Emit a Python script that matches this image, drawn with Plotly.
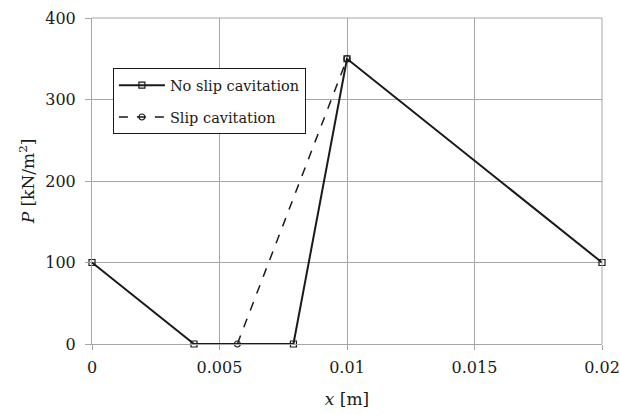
import plotly.graph_objects as go

x_noslip = [0, 0.004, 0.0079, 0.01, 0.02]
p_noslip = [100, 0, 0, 350, 100]
x_slip = [0.0057, 0.01]
p_slip = [0, 350]
x_ticks = [0, 0.005, 0.01, 0.015, 0.02]
x_ticklabels = ["0", "0.005", "0.01", "0.015", "0.02"]
y_ticks = [0, 100, 200, 300, 400]

FONT = "DejaVu Serif"
GRID = "#a6a6a6"
INK = "#1a1a1a"

fig = go.Figure()
fig.add_trace(go.Scatter(
    x=x_noslip, y=p_noslip, mode="lines+markers", name="No slip cavitation",
    legendgroup="a",
    line=dict(color=INK, width=2),
    marker=dict(symbol="square-open", size=6, color=INK, line=dict(width=1.2)),
    cliponaxis=False))
fig.add_trace(go.Scatter(
    x=x_slip, y=p_slip, mode="lines+markers", name="Slip cavitation",
    legendgroup="b",
    line=dict(color=INK, width=1.5, dash="dash"),
    marker=dict(symbol="circle-open", size=6, color=INK, line=dict(width=1.2)),
    cliponaxis=False))

fig.update_layout(
    width=620, height=414,
    margin=dict(l=92, r=18, t=18, b=70, autoexpand=False),
    plot_bgcolor="white", paper_bgcolor="white",
    font=dict(family=FONT, size=16, color=INK),
    showlegend=True,
    legend=dict(x=0.041, y=0.846, xanchor="left", yanchor="top",
                bgcolor="white", bordercolor=INK, borderwidth=1,
                font=dict(family=FONT, size=14.5), itemwidth=46,
                tracegroupgap=10),
    xaxis=dict(range=[0, 0.02], tickvals=x_ticks, ticktext=x_ticklabels,
               showgrid=True, gridcolor=GRID, gridwidth=1,
               showline=True, linecolor=GRID, linewidth=1,
               ticks="outside", ticklen=5, tickcolor=GRID,
               zeroline=False, automargin=False, ticklabeloverflow="allow",
               ticklabelstandoff=4,
               tickfont=dict(family=FONT, size=16),
               title=dict(text="<i>x</i> [m]", font=dict(family=FONT, size=17), standoff=16)),
    yaxis=dict(range=[0, 400], tickvals=y_ticks,
               showgrid=True, gridcolor=GRID, gridwidth=1,
               showline=True, linecolor=GRID, linewidth=1,
               ticks="outside", ticklen=6, tickcolor=GRID,
               zeroline=False, automargin=False, ticklabelstandoff=6,
               ticklabeloverflow="allow",
               tickfont=dict(family=FONT, size=16),
               title=dict(text="<i>P</i> [kN/m<sup>2</sup>]", font=dict(family=FONT, size=17), standoff=6)),
)
fig.add_shape(type="line", xref="paper", yref="paper", x0=1, x1=1, y0=0, y1=1,
              line=dict(color=GRID, width=1))
fig.add_shape(type="line", xref="paper", yref="paper", x0=0, x1=1, y0=1, y1=1,
              line=dict(color=GRID, width=1))

fig.write_html("out.html",
               config={"displayModeBar": False},
               post_script="document.body.style.margin='0';document.body.style.overflow='hidden';")
